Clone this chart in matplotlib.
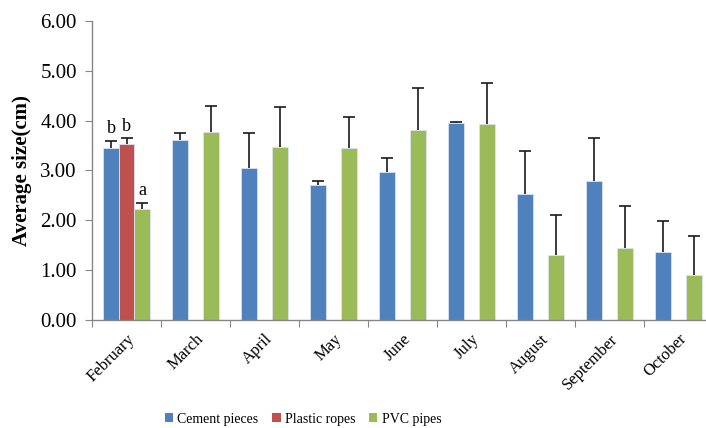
import matplotlib
matplotlib.use("Agg")
import matplotlib.pyplot as plt
import numpy as np
from matplotlib.patches import Patch

months = ["February", "March", "April", "May", "June", "July", "August", "September", "October"]
cement = [3.45, 3.61, 3.06, 2.70, 2.96, 3.95, 2.53, 2.78, 1.36]
cement_top = [3.60, 3.76, 3.75, 2.79, 3.26, 3.97, 3.40, 3.65, 1.98]
ropes = [3.53, np.nan, np.nan, np.nan, np.nan, np.nan, np.nan, np.nan, np.nan]
ropes_top = [3.65, np.nan, np.nan, np.nan, np.nan, np.nan, np.nan, np.nan, np.nan]
pvc = [2.23, 3.77, 3.47, 3.45, 3.81, 3.93, 1.30, 1.44, 0.90]
pvc_top = [2.35, 4.29, 4.27, 4.07, 4.66, 4.76, 2.10, 2.28, 1.68]
series_names = ["Cement pieces", "Plastic ropes", "PVC pipes"]
letters = ["b", "b", "a"]

colors = ["#4F81BD", "#C0504D", "#9BBB59"]
serif = ["Liberation Serif", "DejaVu Serif"]
plt.rcParams["font.family"] = serif

fig = plt.figure(figsize=(7.06, 4.28), dpi=100)
ax = fig.add_axes([92/706, 1-320/428, 621/706, 299/428])

x = np.arange(len(months))
w = 0.225
vals = [cement, ropes, pvc]
tops = [cement_top, ropes_top, pvc_top]
for i, (v, t) in enumerate(zip(vals, tops)):
    v = np.array(v, float)
    t = np.array(t, float)
    pos = x + (i - 1) * w
    ax.bar(pos, v, w, color=colors[i], edgecolor="#dbe4f0", linewidth=0.6, zorder=2)
    err = t - v
    m = ~np.isnan(v)
    eb = ax.errorbar(pos[m], v[m], yerr=[np.zeros(m.sum()), err[m]], fmt="none",
                     ecolor="#1a1a1a", elinewidth=1.2, capsize=4, capthick=1.2, zorder=3)
    # hide the lower caps (upper-only error bars)
    eb[1][0].set_visible(False)

# significance letters for February
for i in range(3):
    top = tops[i][0]
    ax.text(x[0] + (i - 1) * w, top + 0.07, letters[i], ha="center", va="bottom",
            fontsize=13)

ax.set_ylim(0, 6)
ax.set_xlim(-0.5, len(months) - 0.5)
ax.set_yticks(np.arange(0, 6.01, 1))
ax.set_yticklabels([f"{v:.2f}" for v in np.arange(0, 6.01, 1)], fontsize=15)
ax.set_xticks(np.arange(-0.5, len(months), 1))
ax.set_xticklabels([])
ax.set_xticks(x, minor=True)
ax.set_xticklabels(months, minor=True, rotation=45, ha="right", rotation_mode="anchor", fontsize=12)
ax.tick_params(axis="x", which="minor", length=0, pad=8)
ax.tick_params(axis="x", which="major", length=5, color="#868686", direction="out")
ax.tick_params(axis="y", length=5, color="#868686", direction="out", pad=6)
for s in ["top", "right"]:
    ax.spines[s].set_visible(False)
for s in ["left", "bottom"]:
    ax.spines[s].set_color("#868686")
    ax.spines[s].set_linewidth(1.0)

ax.set_ylabel("Average size(cm)", fontsize=15, fontweight="bold", labelpad=6)

handles = [Patch(facecolor=c, edgecolor="none") for c in colors]
fig.legend(handles, series_names, loc="center", bbox_to_anchor=(303/706, 1-419/428), ncol=3,
           frameon=False, fontsize=10, handlelength=0.6, handleheight=0.6,
           handletextpad=0.3, columnspacing=1.0)

fig.savefig("out.png", dpi=100)
